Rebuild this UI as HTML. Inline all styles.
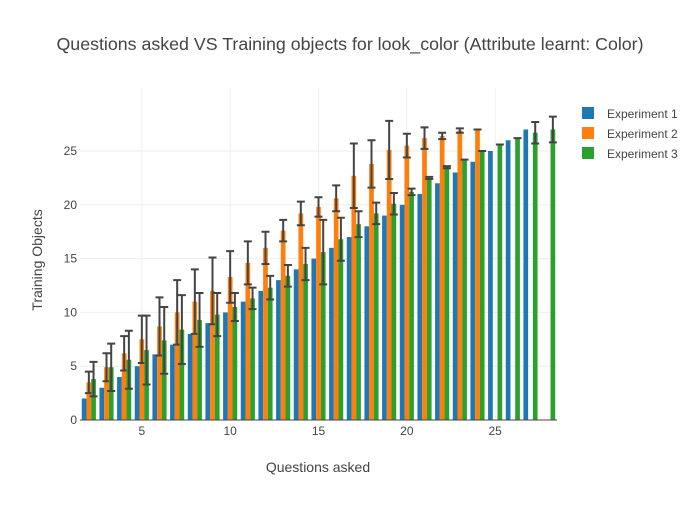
<!DOCTYPE html>
<html><head><meta charset="utf-8"><style>
body{margin:0;background:#fff;font-family:"Liberation Sans",sans-serif}
</style></head><body>
<svg id="c" width="700" height="500" xmlns="http://www.w3.org/2000/svg"></svg>
<script>
const categories=[2,3,4,5,6,7,8,9,10,11,12,13,14,15,16,17,18,19,20,21,22,23,24,25,26,27,28];
const exp1=[2,3,4,5,6.1,7,8,9,10,11,12,13,14,15,16,17,18,19,20,21,22,23,24,25,26,27,null];
const exp2=[3.5,4.9,6.2,7.5,8.7,10,11,12,13.3,14.6,16,17.6,19.2,19.8,20.6,22.7,23.8,25.1,25.5,26.2,26.4,26.9,27,null,null,null,null];
const err2=[1,1.3,1.6,2.2,2.7,3,3,3.1,2.4,2,1.5,1,1.1,0.9,1.2,3,2.2,2.7,1.1,1,0.3,0.2,0,null,null,null,null];
const exp3=[3.8,4.9,5.6,6.5,7.4,8.4,9.3,9.8,10.5,11.3,12.3,13.4,14.5,15.6,16.8,18.2,19.2,20.1,21.2,22.5,23.5,24.2,25,25.6,26.2,26.7,27];
const err3=[1.6,2.2,2.7,3.2,3.1,3.2,2.5,2,1.3,1,1.1,1,1.5,3,2,1.2,1,1,0.3,0.1,0.1,0,0,0,0,1,1.2];
const yTicks=[0,5,10,15,20,25];
const xTicks=[5,10,15,20,25];
const seriesNames=["Experiment 1","Experiment 2","Experiment 3"];
const colors=["#1f77b4","#ff7f0e","#2ca02c"];
const svg=document.getElementById('c');
const NS="http://www.w3.org/2000/svg";
const L=80,R=557,T=88,B=420;
const x=v=>L+(v-1.5)/(28.5-1.5)*(R-L);
const y=v=>B-v*10.76;
function mk(tag,at,parent){const e=document.createElementNS(NS,tag);for(const k in at)e.setAttribute(k,at[k]);(parent||svg).appendChild(e);return e;}
yTicks.forEach(t=>{
 if(t>0){const g=mk('line',{x1:L,x2:R,y1:y(t),y2:y(t),stroke:'#eee','stroke-width':1});
 
 }
 const tx=mk('text',{x:L-3,y:y(t)+4,'text-anchor':'end','font-size':12,fill:'#444'});tx.textContent=t;
 
 
});
xTicks.forEach(t=>{
 const g=mk('line',{x1:x(t),x2:x(t),y1:T,y2:B,stroke:'#eee','stroke-width':1});
 
 
 const tx=mk('text',{x:x(t),y:B+15,'text-anchor':'middle','font-size':12,fill:'#444'});tx.textContent=t;
 
 
});
const cw=(R-L)/27, gw=cw*0.8, bw=gw/3;
const vals=[exp1,exp2,exp3], errs=[null,err2,err3];
categories.forEach((c,i)=>{
 vals.forEach((s,j)=>{
  const v=s[i]; if(v==null)return;
  const bx=x(c)-gw/2+j*bw;
  const r=mk('rect',{x:bx,y:y(v),width:bw,height:B-y(v),fill:colors[j]});
  
  
  const e=errs[j]?errs[j][i]:null;
  if(e!=null){
   const cx=bx+bw/2;
   const g=mk('path',{d:`M${cx},${y(v+e)}V${y(v-e)}M${cx-4},${y(v+e)}H${cx+4}M${cx-4},${y(v-e)}H${cx+4}`,stroke:'#444','stroke-width':2,fill:'none'});
   
   
  }
 });
});
const ax=mk('line',{x1:L,x2:R,y1:B,y2:B,stroke:'#444','stroke-width':1});


seriesNames.forEach((n,j)=>{
 const g=mk('g',{});
 
 
 mk('rect',{x:582,y:107+j*20,width:12,height:12,fill:colors[j]},g);
 const t=mk('text',{x:607,y:118+j*20,'font-size':12,fill:'#444'},g);t.textContent=n;
});
const ti=mk('text',{x:350,y:50,'text-anchor':'middle','font-size':17.8,fill:'#444'});ti.textContent='Questions asked VS Training objects for look_color (Attribute learnt: Color)';


const xt=mk('text',{x:318,y:472,'text-anchor':'middle','font-size':14,fill:'#444'});xt.textContent='Questions asked';


const yt=mk('text',{x:42,y:260,'text-anchor':'middle','font-size':14,fill:'#444',transform:'rotate(-90 42 260)'});yt.textContent='Training Objects';


</script>
</body></html>
